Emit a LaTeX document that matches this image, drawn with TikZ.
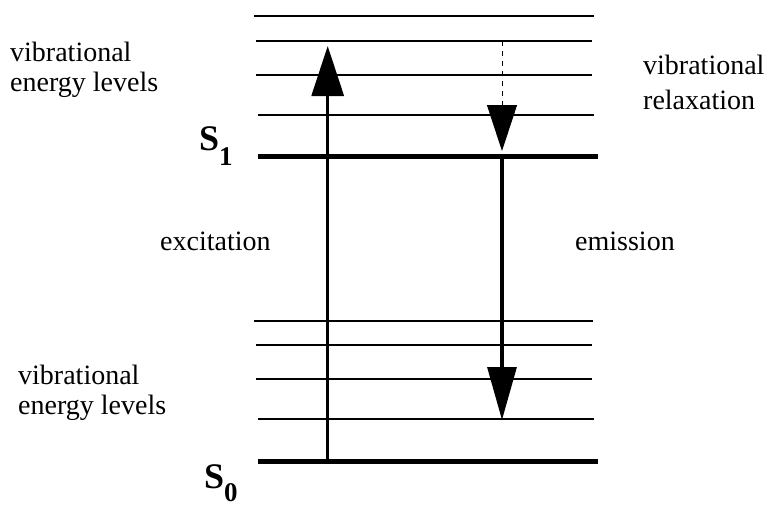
\documentclass[tikz,border=0pt]{standalone}
\usepackage{fontspec}
\setmainfont{Liberation Serif}
\usetikzlibrary{arrows.meta}

\begin{document}
\begin{tikzpicture}[x=1pt, y=-1pt,
    level/.style={line width=1.7pt},
    ground/.style={line width=5.3pt},
    trans/.style={line width=3.2pt},
    relax/.style={line width=1pt, dash pattern=on 5pt off 5pt},
    lbl/.style={font=\fontsize{28}{30}\selectfont, inner sep=0pt, align=left},
    state/.style={font=\fontsize{36}{36}\selectfont\bfseries, inner sep=0pt}]
    \useasboundingbox (0,0) rectangle (772,506);
    % vibrational levels of S1 and S0
    \foreach \y/\xa/\xb in {16/254/594, 41/256/592, 75/256/592, 115/258/594,
                            321/254/593, 345/256/592, 379/256/592, 419/258/594}
        \draw[level] (\xa,\y) -- (\xb,\y);
    % electronic states
    \draw[ground] (258,156.5) -- (598,156.5);
    \draw[ground] (258,461.5) -- (598,461.5);
    % end points of the transitions
    \coordinate (exLow) at (327.7,464);
    \coordinate (exHigh) at (327.7,46);
    \coordinate (emTop) at (502,41);
    \coordinate (emS1) at (502,151);
    \coordinate (emStart) at (502,156);
    \coordinate (emLow) at (502,420);
    \draw[trans, -{Triangle[length=50pt, width=32pt]}] (exLow) -- (exHigh);
    \draw[relax, -{Triangle[length=46pt, width=30pt]}] (emTop) -- (emS1);
    \draw[trans, -{Triangle[length=53pt, width=29pt]}] (emStart) -- (emLow);
    % labels (base = last line)
    \node[lbl, anchor=base west] (vibHigh) at (10,91) {vibrational\\energy levels};
    \node[lbl, anchor=base west] (vibRelax) at (643,109) {vibrational\\[5pt]relaxation};
    \node[lbl, anchor=base west] (vibLow) at (18,414) {vibrational\\energy levels};
    \node[lbl, anchor=base west] (excit) at (160,250) {excitation};
    \node[lbl, anchor=base west] (emiss) at (575,250) {emission};
    \node[state, anchor=base west] (sOne) at (199,150) {S\raisebox{-15pt}{\fontsize{27}{27}\selectfont 1}};
    \node[state, anchor=base west] (sZero) at (204,488) {S\raisebox{-13pt}{\fontsize{27}{27}\selectfont 0}};
\end{tikzpicture}
\end{document}
